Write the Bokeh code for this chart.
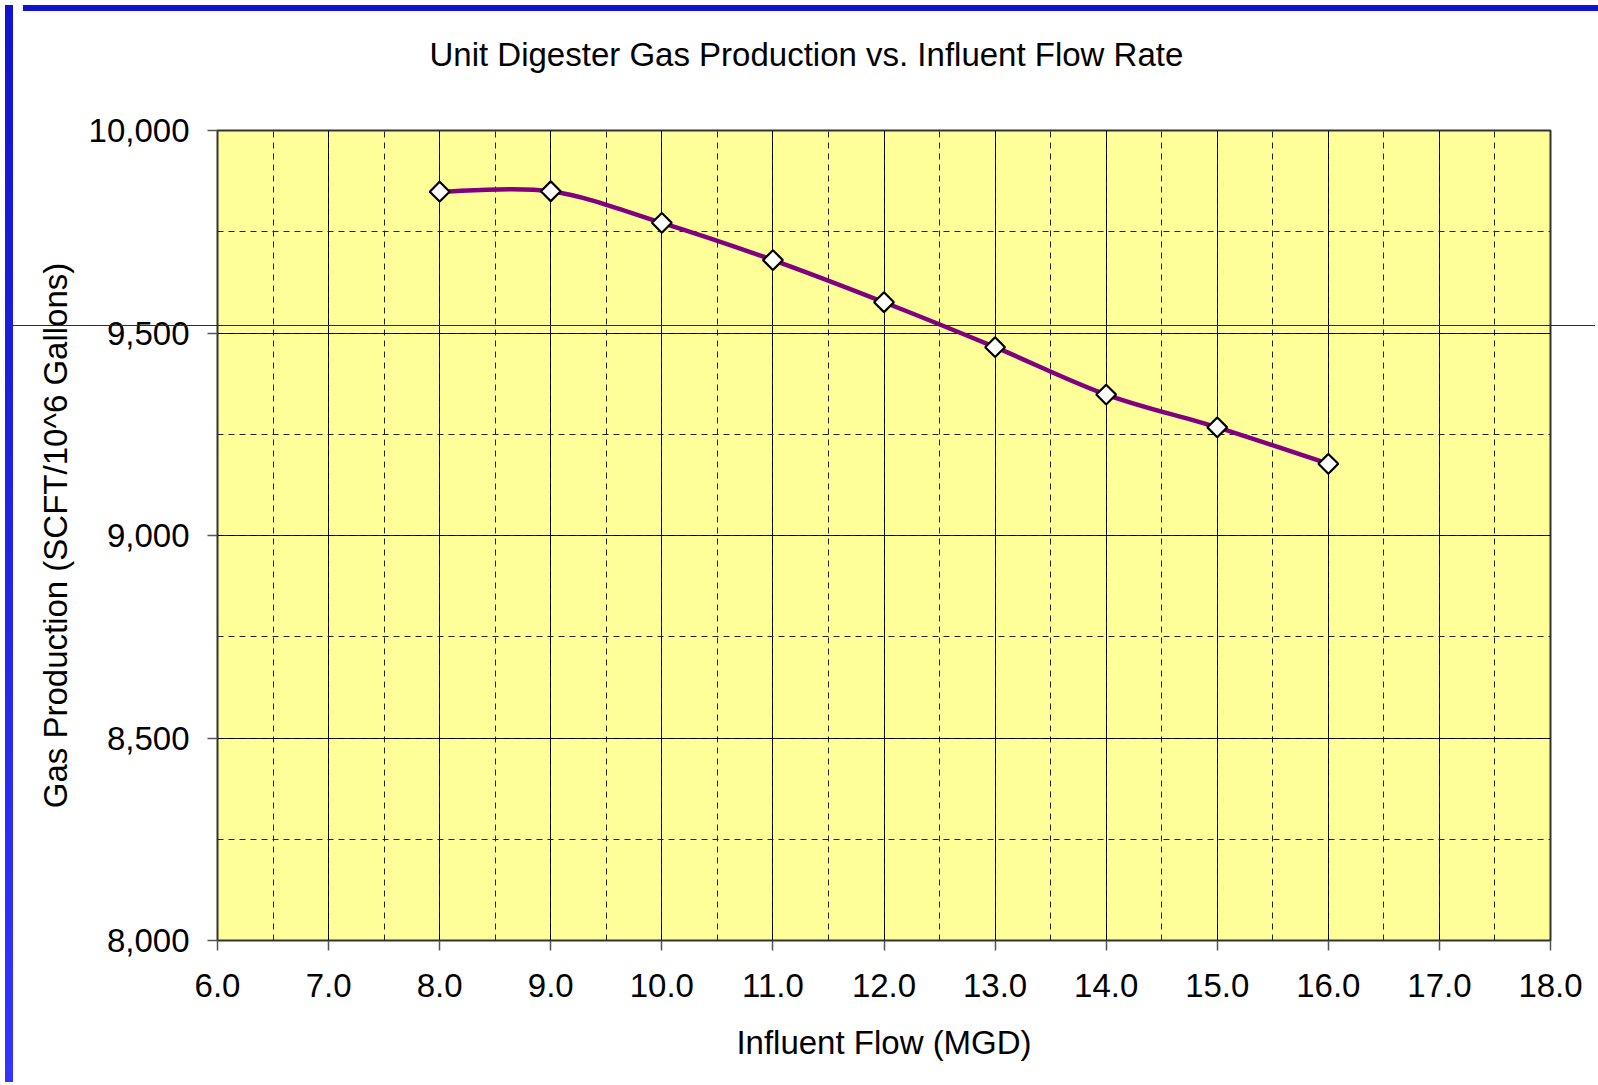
import numpy as np
from bokeh.plotting import figure
from bokeh.models import SingleIntervalTicker, NumeralTickFormatter, Range1d, Div, Title
from bokeh.layouts import row, column
from bokeh.embed import file_html
from bokeh.resources import INLINE

# ---- data ----
flow_mgd = [8.0, 9.0, 10.0, 11.0, 12.0, 13.0, 14.0, 15.0, 16.0]
gas_production = [9849, 9850, 9772, 9680, 9576, 9465, 9348, 9267, 9177]
title_text = "Unit Digester Gas Production vs. Influent Flow Rate"
x_label = "Influent Flow (MGD)"
y_label = "Gas Production (SCFT/10^6 Gallons)"
x_limits = [6.0, 18.0]
y_limits = [8000, 10000]
x_step = 1.0
y_step = 500

FONT = "Liberation Sans"
FS = "33px"

p = figure(width=1582, height=1071, output_backend="svg", toolbar_location=None,
           x_range=Range1d(*x_limits), y_range=Range1d(*y_limits),
           min_border_left=199, min_border_right=50, min_border_top=114,
           min_border_bottom=147,
           background_fill_color="#FFFF99", border_fill_color="white",
           outline_line_color="#333333", outline_line_width=2)

# spacer between title and plot area (closest to the frame)
p.add_layout(Title(text=" ", text_font=FONT, text_font_size=FS, standoff=14), "above")

p.title.text = title_text
p.title.text_font = FONT
p.title.text_font_size = FS
p.title.text_font_style = "normal"
p.title.text_color = "black"
p.title.align = "left"
p.title.offset = 212
p.title.standoff = 10

p.xaxis.ticker = SingleIntervalTicker(interval=x_step, num_minor_ticks=2)
p.yaxis.ticker = SingleIntervalTicker(interval=y_step, num_minor_ticks=2)
p.xaxis.formatter = NumeralTickFormatter(format="0.0")
p.yaxis.formatter = NumeralTickFormatter(format="0,0")
p.xaxis.axis_label = x_label
p.yaxis.axis_label = y_label

for ax in (p.xaxis, p.yaxis):
    ax.axis_line_color = None
    ax.major_tick_in = 0
    ax.major_tick_out = 10
    ax.major_tick_line_color = "#555555"
    ax.major_tick_line_width = 1.5
    ax.minor_tick_line_color = None
    ax.major_label_text_font = FONT
    ax.major_label_text_font_size = FS
    ax.major_label_text_color = "black"
    ax.axis_label_text_font = FONT
    ax.axis_label_text_font_size = FS
    ax.axis_label_text_font_style = "normal"
    ax.axis_label_text_color = "black"

p.xaxis.major_label_standoff = 23
p.xaxis.axis_label_standoff = 24
p.yaxis.major_label_standoff = 18
p.yaxis.axis_label_standoff = 12

for g in (p.xgrid, p.ygrid):
    g.grid_line_color = "black"
    g.grid_line_width = 1
    g.grid_line_alpha = 0.9
    g.minor_grid_line_color = "#222222"
    g.minor_grid_line_width = 1
    g.minor_grid_line_dash = "6 5"

# smoothed line (Catmull-Rom style bezier through the data points)
xs = np.array(flow_mgd, dtype=float)
ys = np.array(gas_production, dtype=float)
n = len(xs)
xp = np.concatenate([[xs[0]], xs, [xs[-1]]])
yp = np.concatenate([[ys[0]], ys, [ys[-1]]])
cx0 = xs[:-1] + (xp[2:n + 1] - xp[0:n - 1]) / 6.0
cy0 = ys[:-1] + (yp[2:n + 1] - yp[0:n - 1]) / 6.0
cx1 = xs[1:] - (xp[3:n + 2] - xp[1:n]) / 6.0
cy1 = ys[1:] - (yp[3:n + 2] - yp[1:n]) / 6.0
p.bezier(x0=xs[:-1], y0=ys[:-1], x1=xs[1:], y1=ys[1:],
         cx0=cx0, cy0=cy0, cx1=cx1, cy1=cy1,
         line_color="#800080", line_width=4.5, line_cap="round")

p.scatter(flow_mgd, gas_production, marker="square", angle=np.pi / 4, size=14,
          fill_color="white", line_color="black", line_width=2.2)

# slide decoration: blue frame edges and stray horizontal rule
left_bar = Div(width=8, height=1077,
               styles={"background": "linear-gradient(to bottom, #1212d0, #3434ff)"})
top_bar = Div(width=1582, height=6, styles={"background": "#1212d2"})
rule = Div(width=1582, height=1,
           styles={"position": "absolute", "left": "8px", "top": "320px",
                   "background": "#1c1ca8", "z-index": "5"})
inner = column(top_bar, p, spacing=0)
root = row(left_bar, inner, rule, spacing=0)

open("out.html", "w").write(file_html(root, INLINE))
